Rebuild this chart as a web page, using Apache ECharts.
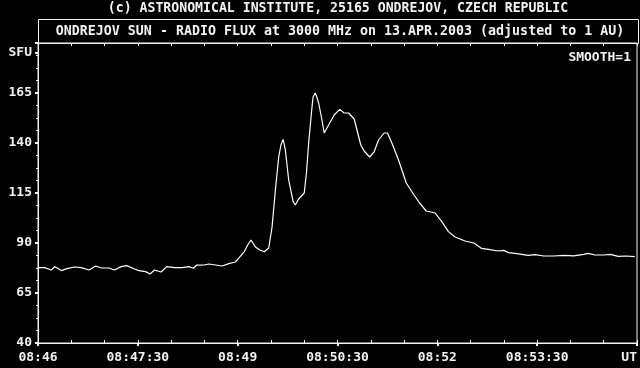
<!DOCTYPE html>
<html>
<head>
<meta charset="utf-8">
<script src="https://cdn.jsdelivr.net/npm/echarts@6/dist/echarts.min.js"></script>
<style>
html,body{margin:0;padding:0;background:#000;}
#c{width:640px;height:368px;}
</style>
</head>
<body>
<div id="c"></div>
<script>
// ---- data ----
var times = [
 "08:46:00","08:46:06","08:46:12","08:46:15","08:46:21","08:46:26","08:46:33","08:46:39","08:46:46","08:46:52",
 "08:46:57","08:47:04","08:47:09","08:47:15","08:47:20","08:47:27","08:47:31","08:47:37","08:47:41","08:47:45",
 "08:47:51","08:47:56","08:48:03","08:48:10","08:48:16","08:48:20","08:48:23","08:48:30","08:48:34","08:48:40",
 "08:48:46","08:48:52","08:48:58","08:49:01","08:49:06","08:49:09","08:49:12","08:49:16","08:49:20","08:49:24",
 "08:49:28","08:49:31","08:49:34","08:49:37","08:49:39","08:49:41","08:49:43","08:49:46","08:49:50","08:49:52",
 "08:49:55","08:50:00","08:50:02","08:50:04","08:50:07","08:50:08","08:50:10","08:50:11","08:50:13","08:50:16",
 "08:50:18","08:50:22","08:50:27","08:50:32","08:50:36","08:50:40","08:50:45","08:50:48","08:50:51","08:50:54",
 "08:50:59","08:51:03","08:51:07","08:51:12","08:51:15","08:51:19","08:51:25","08:51:32","08:51:39","08:51:44",
 "08:51:50","08:51:58","08:52:04","08:52:10","08:52:16","08:52:25","08:52:33","08:52:40","08:52:46","08:52:55",
 "08:53:00","08:53:04","08:53:10","08:53:16","08:53:22","08:53:28","08:53:36","08:53:45","08:53:54","08:54:03",
 "08:54:12","08:54:16","08:54:22","08:54:30","08:54:36","08:54:43","08:54:50","08:54:58"
];
var flux = [
 77.7,77.7,76.5,78.2,76.2,77.2,78.0,77.7,76.5,78.5,
 77.5,77.5,76.5,78.2,78.7,77.0,76.2,75.7,74.5,76.5,
 75.5,78.2,77.7,77.7,78.2,77.4,78.9,79.0,79.5,79.0,
 78.5,79.7,80.5,82.4,85.7,89.0,91.5,88.0,86.5,85.6,
 87.5,98.0,116.5,133.0,139.0,141.8,136.5,121.5,110.7,109.0,
 112.0,115.0,125.0,140.0,158.0,163.0,165.0,163.5,160.0,151.5,
 145.0,149.0,154.0,156.8,155.0,155.0,152.0,145.5,139.0,136.0,
 133.0,135.6,141.5,145.0,145.0,140.0,131.5,120.0,114.0,110.0,
 106.0,105.0,100.7,95.7,93.0,91.0,90.0,87.3,86.8,86.0,
 86.3,85.2,84.8,84.3,83.8,84.2,83.5,83.5,83.8,83.6,
 84.3,84.8,84.0,84.0,84.3,83.3,83.5,83.2
];
var yTicks = [40, 65, 90, 115, 140, 165];
var xTickLabels = ["08:46","08:47:30","08:49","08:50:30","08:52","08:53:30","UT"];
var titleText = "ONDREJOV SUN - RADIO FLUX at 3000 MHz on 13.APR.2003 (adjusted to 1 AU)";
var copyText = "(c) ASTRONOMICAL INSTITUTE, 25165 ONDREJOV, CZECH REPUBLIC";

// ---- build ----
function toSec(s){ var p=s.split(':'); return (+p[0])*3600+(+p[1])*60+(+p[2]) - (8*3600+46*60); }
var seriesData = times.map(function(t,i){ return [toSec(t), flux[i]]; });
var FONT = 'DejaVu Sans Mono';
var COL = '#f2f2f2';

var chart = echarts.init(document.getElementById('c'), null, {renderer:'canvas'});
chart.setOption({
  backgroundColor:'#000',
  animation:false,
  grid:{left:38, right:2, top:43, bottom:25, show:true, borderColor:COL, borderWidth:1, containLabel:false},
  xAxis:[
    {type:'value', min:0, max:540, interval:90, position:'bottom',
     axisLine:{show:true, lineStyle:{color:COL, width:1}},
     axisTick:{show:true, inside:false, length:3, lineStyle:{color:COL, width:2}},
     axisLabel:{color:COL, fontFamily:FONT, fontWeight:'bold', fontSize:13, margin:8,
       alignMinLabel:'center', alignMaxLabel:'right',
       formatter:function(v){ return xTickLabels[Math.round(v/90)]; }},
     splitLine:{show:false}},
    {type:'value', min:0, max:540, interval:30, position:'bottom',
     axisLine:{show:false},
     axisTick:{show:true, inside:true, length:3, lineStyle:{color:COL, width:1}},
     axisLabel:{show:false}, splitLine:{show:false}},
    {type:'value', min:0, max:540, interval:30, position:'top',
     axisLine:{show:false},
     axisTick:{show:true, inside:true, length:3, lineStyle:{color:COL, width:1}},
     axisLabel:{show:false}, splitLine:{show:false}}
  ],
  yAxis:[
    {type:'value', min:40, max:190, interval:25,
     axisLine:{show:true, lineStyle:{color:COL, width:1}},
     axisTick:{show:true, inside:false, length:3, lineStyle:{color:COL, width:2}},
     minorTick:{show:true, splitNumber:4, length:2, lineStyle:{color:COL, width:1}},
     axisLabel:{color:COL, fontFamily:FONT, fontWeight:'bold', fontSize:13, margin:6, padding:[4,0,0,0],
       formatter:function(v){ return yTicks.indexOf(v) >= 0 ? String(v) : ''; }},
     splitLine:{show:false}}
  ],
  graphic:[
    {type:'text', x:338, y:8.5, style:{text:copyText, fill:COL, font:'bold 13.2px "DejaVu Sans Mono"', textAlign:'center', textVerticalAlign:'middle'}},
    {type:'rect', shape:{x:38.5, y:19.5, width:600, height:24}, style:{fill:'none', stroke:COL, lineWidth:1}, silent:true},
    {type:'text', x:340, y:31.5, style:{text:titleText, fill:COL, font:'bold 13.3px "DejaVu Sans Mono"', textAlign:'center', textVerticalAlign:'middle'}},
    {type:'text', x:631, y:58, style:{text:'SMOOTH=1', fill:COL, font:'bold 13px "DejaVu Sans Mono"', textAlign:'right', textVerticalAlign:'middle'}},
    {type:'text', x:32, y:53, style:{text:'SFU', fill:COL, font:'bold 13px "DejaVu Sans Mono"', textAlign:'right', textVerticalAlign:'middle'}},
    {type:'rect', shape:{x:35, y:52, width:3, height:2}, style:{fill:COL}, silent:true}
  ],
  series:[
    {type:'line', xAxisIndex:0, yAxisIndex:0, data:seriesData, showSymbol:false, symbol:'none',
     lineStyle:{color:'#ffffff', width:1.2}, smooth:false}
  ]
});
</script>
</body>
</html>
